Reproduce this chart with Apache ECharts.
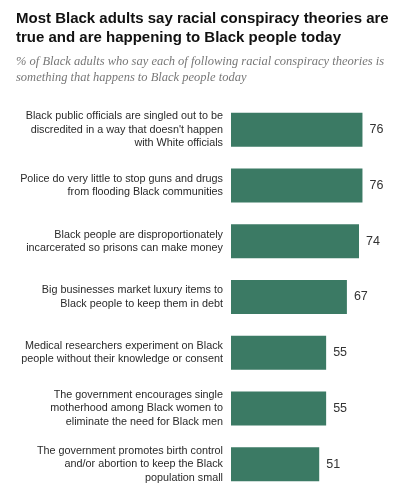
<!DOCTYPE html>
<html>
<head>
<meta charset="utf-8">
<script src="https://cdn.jsdelivr.net/npm/echarts@6/dist/echarts.min.js"></script>
<style>html,body{margin:0;padding:0;background:#fff}#c{width:400px;height:500px}</style>
</head>
<body>
<div id="c"></div>
<script>
var titleText = "Most Black adults say racial conspiracy theories are\ntrue and are happening to Black people today";
var subtitleText = "% of Black adults who say each of following racial conspiracy theories is\nsomething that happens to Black people today";
var categories = [
  "Black public officials are singled out to be\ndiscredited in a way that doesn't happen\nwith White officials",
  "Police do very little to stop guns and drugs\nfrom flooding Black communities",
  "Black people are disproportionately\nincarcerated so prisons can make money",
  "Big businesses market luxury items to\nBlack people to keep them in debt",
  "Medical researchers experiment on Black\npeople without their knowledge or consent",
  "The government encourages single\nmotherhood among Black women to\neliminate the need for Black men",
  "The government promotes birth control\nand/or abortion to keep the Black\npopulation small"
];
var values = [76, 76, 74, 67, 55, 55, 51];

var chart = echarts.init(document.getElementById('c'), null, {renderer: 'canvas'});
chart.setOption({
  animation: false,
  backgroundColor: '#fff',
  title: [{
    text: titleText,
    left: 11, top: 4,
    textStyle: {fontFamily: 'Liberation Sans', fontWeight: 'bold', fontSize: 15, lineHeight: 19, color: '#111'}
  }, {
    text: subtitleText,
    left: 11, top: 49,
    textStyle: {fontFamily: 'Liberation Serif', fontStyle: 'italic', fontWeight: 'normal', fontSize: 12.5, lineHeight: 16, color: '#777'}
  }],
  grid: {left: 231, top: 102, right: 0, height: 390, containLabel: false},
  xAxis: {type: 'value', min: 0, max: 97.7, show: false},
  yAxis: {
    type: 'category', data: categories, inverse: true,
    axisLine: {show: false}, axisTick: {show: false},
    axisLabel: {margin: 8, fontFamily: 'Liberation Sans', fontSize: 10.8, lineHeight: 13.4, color: '#2a2a2a', align: 'right'}
  },
  series: [{
    type: 'bar', data: values, barWidth: 34,
    itemStyle: {color: '#3b7a64'},
    label: {show: true, position: 'right', distance: 7, fontFamily: 'Liberation Sans', fontSize: 12.5, color: '#333'}
  }]
});
</script>
</body>
</html>
